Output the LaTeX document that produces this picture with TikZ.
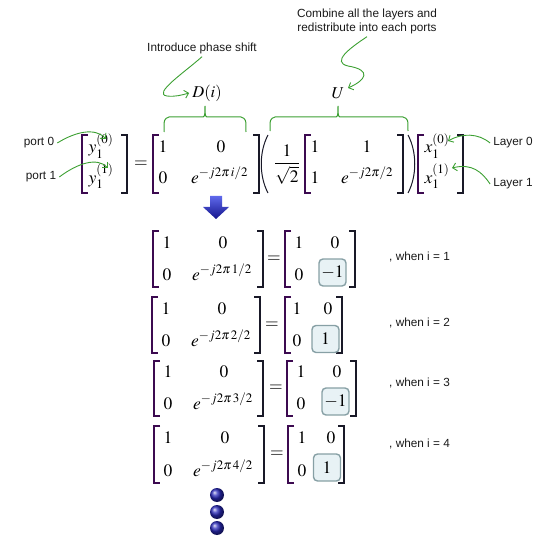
\documentclass[tikz,border=0pt]{standalone}
\usepackage{mathptmx}
\usepackage[no-math]{fontspec}
\newfontfamily\lab{Liberation Sans}
\usetikzlibrary{arrows.meta}
\definecolor{gr}{RGB}{60,160,50}
\definecolor{txt}{RGB}{25,25,25}
\definecolor{brkl}{RGB}{60,10,80}
\definecolor{brkr}{RGB}{25,25,40}
\definecolor{boxb}{RGB}{135,160,165}
\definecolor{boxf}{RGB}{232,242,245}
\definecolor{sph}{RGB}{40,40,185}
\definecolor{arrT}{RGB}{95,105,235}
\definecolor{arrB}{RGB}{20,20,140}
\newcommand\BrL[3]{\draw[brk,draw=brkl] (#1+6,#2) -- (#1,#2) -- (#1,#3) -- (#1+6,#3);}
\newcommand\BrR[3]{\draw[brk,draw=brkr] (#1-6,#2) -- (#1,#2) -- (#1,#3) -- (#1-6,#3);}
\begin{document}
\begin{tikzpicture}[x=1pt,y=-1pt,
  lbl/.style={font=\lab\fontsize{11.8}{14}\selectfont, text=txt, inner sep=3pt},
  m/.style={font=\fontsize{17.5}{20}\selectfont, inner sep=0pt, anchor=base},
  mw/.style={m, anchor=base west},
  mc/.style={font=\fontsize{17.5}{20}\selectfont, inner sep=0pt},
  brk/.style={line width=1.1pt},
  par/.style={line width=1pt, draw=brkr},
  garrow/.style={draw=gr, line width=0.9pt, -{Straight Barb[length=4pt,width=8pt]}},
  gbrace/.style={draw=gr, line width=1pt},
  valbox/.style={draw=boxb, fill=boxf, line width=1.4pt, rounded corners=4pt, minimum width=27pt, minimum height=27pt, inner sep=0pt, font=\fontsize{17.5}{20}\selectfont}
]
\useasboundingbox (0,0) rectangle (558,551);

% ---- top annotations
\node[lbl, align=center] (comb) at (367,21) {Combine all the layers and\\redistribute into each ports};
\node[lbl] (intro) at (202,48) {Introduce phase shift};
\node[font=\fontsize{16.5}{19}\selectfont, inner sep=3pt] (Di) at (207,93) {$D(i)$};
\node[font=\fontsize{16.5}{19}\selectfont, inner sep=3pt] (U) at (338,93) {$U$};
\coordinate (tU) at (348,88);
\draw[garrow] (intro.south) .. controls (185,72) and (152,94) .. (167,96) .. controls (175,97) and (182,95) .. (Di.west);
\draw[garrow] (comb.south) .. controls (350,48) and (331,62) .. (348,66) .. controls (372,70) and (366,80) .. (tU);

% braces
\draw[gbrace] (164,132) .. controls (164,119) .. (169,117) -- (201,117) .. controls (205,117) .. (205,106) .. controls (205,117) .. (209,117) -- (241,117) .. controls (246,119) .. (246,132);
\draw[gbrace] (270,131) .. controls (270,119) .. (275,117) -- (334,117) .. controls (338,117) .. (338,106) .. controls (338,117) .. (342,117) -- (403,117) .. controls (408,119) .. (408,131);

% ---- main equation
\BrL{82}{135}{193} \BrR{127}{135}{193}
\node[m] (y0) at (101,153) {$y_1^{(0)}$};
\node[m] (y1) at (101,183) {$y_1^{(1)}$};
\node[mc] (eq0) at (141,164) {$=$};
\BrL{153}{135}{193} \BrR{259}{135}{193}
\node[m] (d11) at (163,153) {$1$};
\node[m] (d12) at (221,153) {$0$};
\node[m] (d21) at (163,183) {$0$};
\node[mw] (d22) at (191,183) {$e^{-j2\pi\, i/2}$};
\draw[par] (268,135) .. controls (259,152) and (259,176) .. (268,193);
\node[m] (frac) at (287,168) {$\displaystyle\frac{1}{\sqrt{2}}$};
\BrL{305}{135}{193} \BrR{403}{135}{193}
\node[m] (u11) at (315,153) {$1$};
\node[m] (u12) at (367,153) {$1$};
\node[m] (u21) at (315,183) {$1$};
\node[mw] (u22) at (341,183) {$e^{-j2\pi/2}$};
\draw[par] (408,135) .. controls (417,152) and (417,176) .. (408,193);
\BrL{418}{135}{193} \BrR{463}{135}{193}
\node[m] (x0) at (437,153) {$x_1^{(0)}$};
\node[m] (x1) at (437,183) {$x_1^{(1)}$};

% side labels
\node[lbl] (p0) at (39,143) {port 0};
\node[lbl] (p1) at (41,177) {port 1};
\node[lbl] (l0) at (513,143) {Layer 0};
\node[lbl] (l1) at (513,184) {Layer 1};
\coordinate (tp0) at (106,139);
\coordinate (tp1) at (108,168);
\coordinate (tl0) at (448,141);
\coordinate (tl1) at (452,168);
\draw[garrow] (p0.east) .. controls (75,132) and (95,127) .. (tp0);
\draw[garrow] (p1.east) .. controls (78,163) and (97,157) .. (tp1);
\draw[garrow] (l0.west) .. controls (478,133) and (462,133) .. (tl0);
\draw[garrow] (l1.west) .. controls (482,172) and (472,163) .. (tl1);

% ---- blue down arrow
\shade[top color=arrT, bottom color=arrB] (210,196) -- (222,196) -- (222,207) -- (229,207) -- (216,219) -- (203,207) -- (210,207) -- cycle;

% ---- block i=1
\BrL{153}{231}{287} \BrR{263}{231}{287}
\node[m] (a11) at (167,248) {$1$};
\node[m] (a12) at (223,248) {$0$};
\node[m] (a21) at (167,280) {$0$};
\node[mw] (a22) at (192,280) {$e^{-j2\pi\, 1/2}$};
\node[mc] (aeq) at (274,259) {$=$};
\BrL{285}{231}{287} \BrR{355}{231}{287}
\node[m] (ar11) at (299,248) {$1$};
\node[m] (ar12) at (335,248) {$0$};
\node[m] (ar21) at (299,280) {$0$};
\node[valbox] (abox) at (332.5,272.5) {$-1$};
\node[lbl, anchor=west] (w1) at (386,257) {, when i = 1};

% ---- block i=2
\BrL{152}{297}{353} \BrR{260}{297}{353}
\node[m] (b11) at (166,314) {$1$};
\node[m] (b12) at (222,314) {$0$};
\node[m] (b21) at (166,346) {$0$};
\node[mw] (b22) at (191,346) {$e^{-j2\pi\, 2/2}$};
\node[mc] (beq) at (272,325) {$=$};
\BrL{285}{297}{353} \BrR{342}{297}{353}
\node[m] (br11) at (297,314) {$1$};
\node[m] (br12) at (328,314) {$0$};
\node[m] (br21) at (297,346) {$0$};
\node[valbox] (bbox) at (325.5,339) {$1$};
\node[lbl, anchor=west] (w2) at (386,323) {, when i = 2};

% ---- block i=3
\BrL{154}{361}{416} \BrR{263}{361}{416}
\node[m] (c11) at (168,377) {$1$};
\node[m] (c12) at (224,377) {$0$};
\node[m] (c21) at (168,409) {$0$};
\node[mw] (c22) at (193,409) {$e^{-j2\pi\, 3/2}$};
\node[mc] (ceq) at (276,388) {$=$};
\BrL{287}{361}{416} \BrR{356}{361}{416}
\node[m] (cr11) at (301,377) {$1$};
\node[m] (cr12) at (337,377) {$0$};
\node[m] (cr21) at (301,409) {$0$};
\node[valbox] (cbox) at (335.5,401.5) {$-1$};
\node[lbl, anchor=west] (w3) at (386,383) {, when i = 3};

% ---- block i=4
\BrL{154}{426}{483} \BrR{264}{426}{483}
\node[m] (e11) at (168,443) {$1$};
\node[m] (e12) at (225,443) {$0$};
\node[m] (e21) at (168,476) {$0$};
\node[mw] (e22) at (193,476) {$e^{-j2\pi\, 4/2}$};
\node[mc] (eeq) at (277,454) {$=$};
\BrL{288}{426}{483} \BrR{344}{426}{483}
\node[m] (er11) at (302,443) {$1$};
\node[m] (er12) at (331,443) {$0$};
\node[m] (er21) at (302,476) {$0$};
\node[valbox] (ebox) at (327,467.5) {$1$};
\node[lbl, anchor=west] (w4) at (386,444) {, when i = 4};

% ---- dots
\shade[ball color=sph] (217,495) circle (7pt);
\shade[ball color=sph] (217,512) circle (7pt);
\shade[ball color=sph] (217,528) circle (7pt);
\end{tikzpicture}
\end{document}
